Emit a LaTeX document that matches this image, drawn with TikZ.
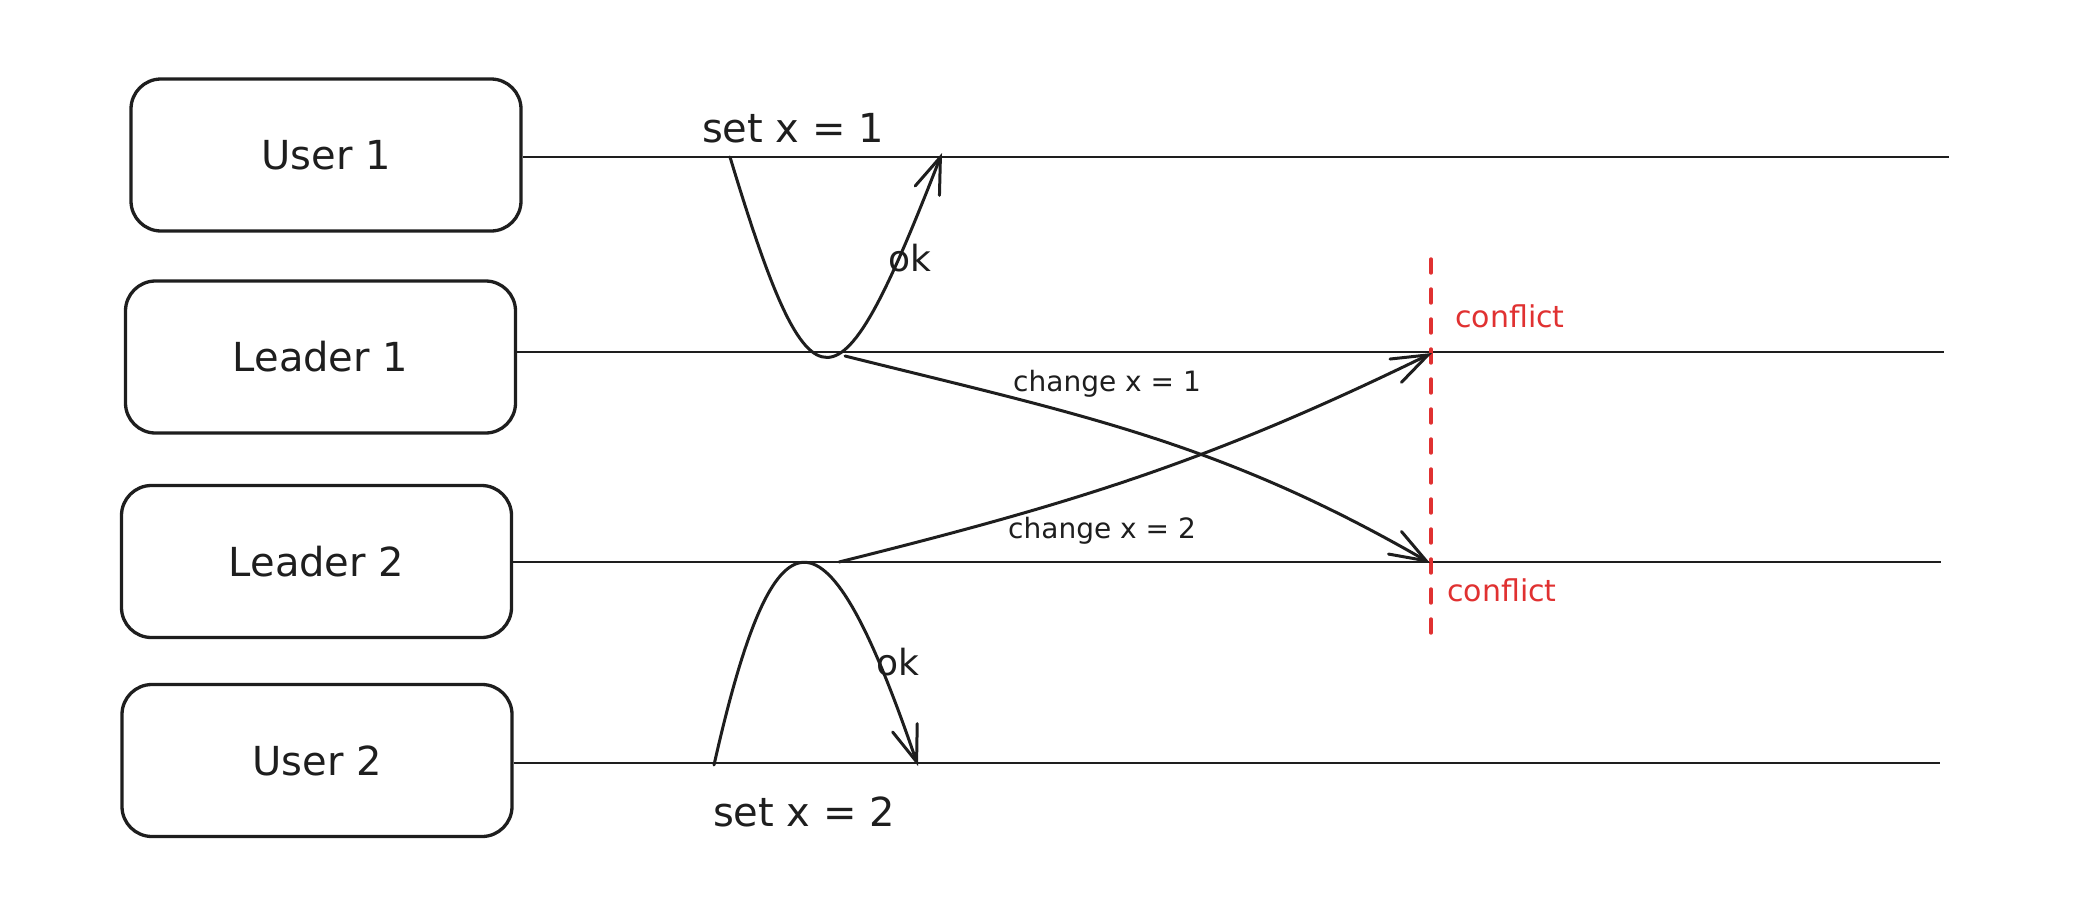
\documentclass[tikz,border=0pt]{standalone}
\usepackage{fontspec}
\setmainfont{DejaVu Sans}
\usetikzlibrary{arrows.meta}
\definecolor{ink}{HTML}{1E1E1E}
\definecolor{exred}{HTML}{E03131}
\begin{document}
\begin{tikzpicture}[x=0.5pt,y=0.5pt,
  box/.style={draw=ink, line width=1.65pt, rounded corners=15pt, minimum width=195pt, minimum height=76pt, inner sep=0pt, font=\fontsize{20}{24}\selectfont, text=ink},
  life/.style={draw=ink, line width=1.4pt},
  msg/.style={draw=ink, line width=1.5pt, line cap=round, line join=round, -{Straight Barb[length=18pt,width=13pt,line width=1.5pt,line cap=round]}},
  lbl/.style={text=ink, inner sep=0pt},
  big/.style={lbl, font=\fontsize{20}{24}\selectfont},
  okf/.style={lbl, font=\fontsize{18}{22}\selectfont},
  small/.style={lbl, font=\fontsize{14}{17}\selectfont},
  red/.style={text=exred, inner sep=0pt, font=\fontsize{15}{18}\selectfont},
  conf/.style={draw=exred, line width=1.7pt, line cap=round, dash pattern=on 7pt off 8pt}
]
\useasboundingbox (0,0) rectangle (2082,-910);

% participants
\node[box] (u1) at (326,-155) {User 1};
\node[box] (l1) at (320.5,-357) {Leader 1};
\node[box] (l2) at (316.5,-561.5) {Leader 2};
\node[box] (u2) at (317,-760.5) {User 2};

% lifeline ends
\coordinate (u1e) at (1949,-157);
\coordinate (l1e) at (1944,-352);
\coordinate (l2e) at (1941,-562);
\coordinate (u2e) at (1940,-763);

\draw[life] (u1.east |- u1e) -- (u1e);
\draw[life] (l1.east |- l1e) -- (l1e);
\draw[life] (l2.east |- l2e) -- (l2e);
\draw[life] (u2.east |- u2e) -- (u2e);

% conflict line
\coordinate (ct) at (1431,-259);
\coordinate (cb) at (1431,-647);
\draw[conf] (ct) -- (cb);

% set x = 1 / ok
\coordinate (s1a) at (730,-157);
\coordinate (s1c) at (942,-153);
\draw[msg] (s1a) .. controls (812,-428) and (838,-420) .. (s1c);

% set x = 2 / ok
\coordinate (s2a) at (714,-765);
\coordinate (s2c) at (918,-766);
\draw[msg] (s2a) .. controls (775,-494) and (826,-497) .. (s2c);

% change messages
\coordinate (c1a) at (845,-356);
\coordinate (c1b) at (1430,-563);
\coordinate (c2a) at (839,-562);
\coordinate (c2b) at (1432,-353);
\draw[msg] (c1a) to[out=-14,in=150] (c1b);
\draw[msg] (c2a) to[out=14,in=206] (c2b);

% labels
\node[big] (t1) at (793,-128) {set x = 1};
\node[okf] (ok1) at (910,-258) {ok};
\node[small] (t3) at (1107,-384) {change x = 1};
\node[small] (t4) at (1102,-531) {change x = 2};
\node[big] (t2) at (804,-812) {set x = 2};
\node[okf] (ok2) at (898,-662) {ok};
\node[red] (cf1) at (1510,-316) {conflict};
\node[red] (cf2) at (1502,-590) {conflict};
\end{tikzpicture}
\end{document}
